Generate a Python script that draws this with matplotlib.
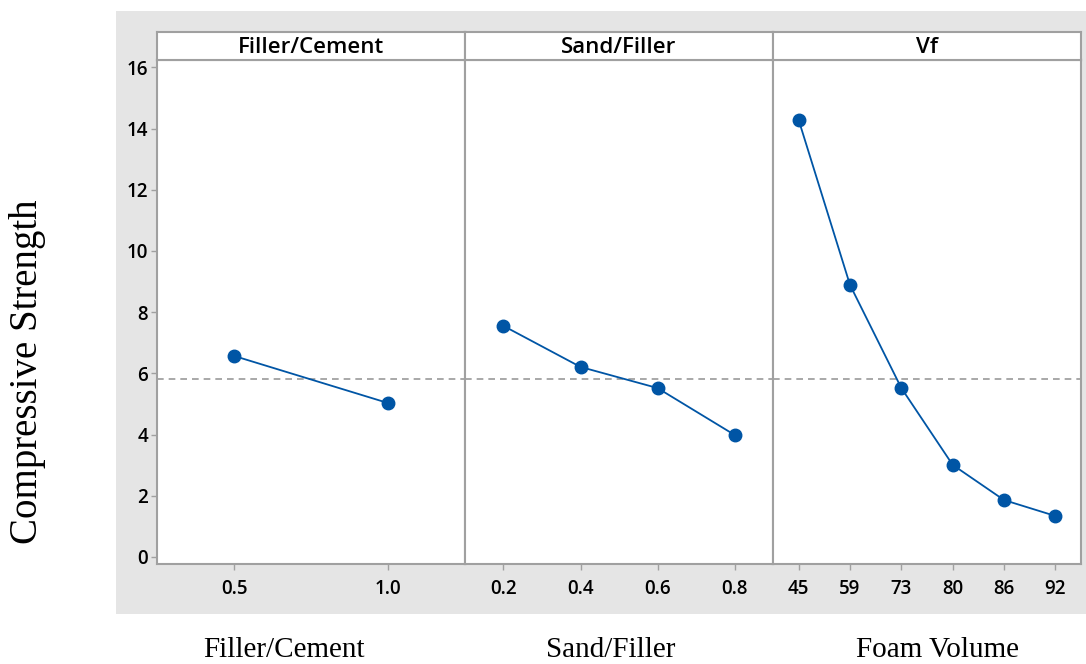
import matplotlib.pyplot as plt
from matplotlib.patches import Rectangle

# data
fc_levels = ["0.5", "1.0"]
fc_means = [6.57, 5.03]
sf_levels = ["0.2", "0.4", "0.6", "0.8"]
sf_means = [7.55, 6.21, 5.52, 3.99]
vf_levels = ["45", "59", "73", "80", "86", "92"]
vf_means = [14.28, 8.89, 5.52, 3.01, 1.86, 1.34]
grand_mean = 5.82

panel_titles = ["Filler/Cement", "Sand/Filler", "Vf"]
bottom_labels = ["Filler/Cement", "Sand/Filler", "Foam Volume"]
y_ticks = [0, 2, 4, 6, 8, 10, 12, 14, 16]

W, H = 1086, 664
fig = plt.figure(figsize=(W / 100, H / 100), dpi=100)
fig.patch.set_facecolor("white")

# grey backdrop behind the panels
fig.patches.append(Rectangle((116 / W, 1 - 614 / H), (W - 116) / W, (614 - 11) / H,
                             transform=fig.transFigure, facecolor="#e5e5e5",
                             edgecolor="none", zorder=-10))

edge = "#a0a0a0"
blue = "#0055a5"
tick_font = dict(family=["Open Sans", "DejaVu Sans"], weight="semibold", size=13.5)

left0, pw = 157 / W, 308 / W
bot, top = 1 - 564 / H, 1 - 60 / H
strip_h = 28 / H

panels = [(fc_levels, fc_means), (sf_levels, sf_means), (vf_levels, vf_means)]
for i, (levels, means) in enumerate(panels):
    ax = fig.add_axes([left0 + i * pw, bot, pw, top - bot])
    ax.set_facecolor("white")
    x = list(range(len(levels)))
    ax.plot(x, means, color=blue, lw=1.3, marker="o", ms=9, zorder=3)
    ax.axhline(grand_mean, color="#999999", ls="--", lw=1.2, dashes=(4, 3), zorder=2)
    ax.set_xlim(-0.5, len(levels) - 0.5)
    ax.set_ylim(-0.23, 16.24)
    ax.set_xticks(x)
    ax.set_xticklabels(levels, **tick_font)
    ax.set_yticks(y_ticks)
    if i == 0:
        ax.set_yticklabels([str(t) for t in y_ticks], **tick_font)
    else:
        ax.tick_params(axis="y", left=False, labelleft=False)
    ax.tick_params(color=edge, length=4, width=1)
    ax.tick_params(axis="x", pad=7)
    ax.tick_params(axis="y", pad=2.5)
    for s in ax.spines.values():
        s.set_color(edge)
        s.set_linewidth(1.5)

    sax = fig.add_axes([left0 + i * pw, top, pw, strip_h])
    sax.set_facecolor("white")
    sax.set_xticks([])
    sax.set_yticks([])
    for s in sax.spines.values():
        s.set_color(edge)
        s.set_linewidth(1.5)
    sax.text(0.5, 0.45, panel_titles[i], ha="center", va="center",
             transform=sax.transAxes, family=["Open Sans", "DejaVu Sans"],
             weight="semibold", size=16)

fig.text(28 / W, 1 - 372 / H, "Compressive Strength", rotation=90, ha="center",
         va="center", family="Liberation Serif", size=28)
for lab, xc in zip(bottom_labels, [284, 611, 937]):
    fig.text(xc / W, 1 - 650 / H, lab, ha="center", va="center",
             family="Liberation Serif", size=21)

fig.savefig("out.png", dpi=100)
